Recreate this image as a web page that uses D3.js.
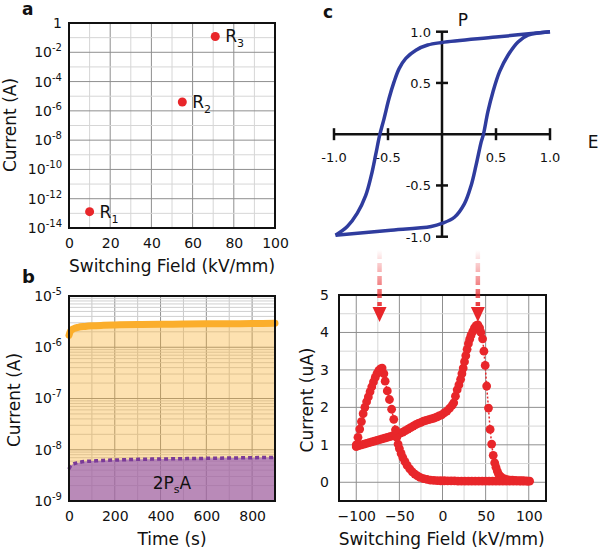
<!DOCTYPE html>
<html><head><meta charset="utf-8">
<script src="https://cdn.jsdelivr.net/npm/d3@7"></script>
<style>
body{margin:0;background:#fff}
svg text{font-family:"DejaVu Sans", sans-serif; fill:#111}
</style></head><body>
<svg id="c" width="600" height="554"></svg>
<script>
// ---------- Panel a data ----------
const aField = [10, 55, 71];
const aCurrent = [1.3e-13, 4e-6, 1.2e-1];
const aSubs = ["1", "2", "3"];
const aXTicks = [0, 20, 40, 60, 80, 100];
const aYExps = [0, -2, -4, -6, -8, -10, -12, -14];

// ---------- Panel b data ----------
const bTime = [0, 5, 10, 20, 40, 70, 100, 150, 200, 300, 400, 500, 600, 700, 800, 900];
const bOrange = [1.7e-6, 2.0e-6, 2.15e-6, 2.3e-6, 2.45e-6, 2.55e-6, 2.62e-6, 2.68e-6, 2.72e-6, 2.78e-6, 2.8e-6, 2.83e-6, 2.86e-6, 2.88e-6, 2.9e-6, 2.93e-6];
const bPurple = [4.2e-9, 4.7e-9, 5.0e-9, 5.3e-9, 5.6e-9, 5.9e-9, 6.0e-9, 6.2e-9, 6.3e-9, 6.5e-9, 6.6e-9, 6.7e-9, 6.8e-9, 6.9e-9, 7.0e-9, 7.1e-9];
const bXTicks = [0, 200, 400, 600, 800];
const bYExps = [-5, -6, -7, -8, -9];

// ---------- Panel c data (hysteresis) ----------
const cUpperE = [1.0, 0.5, 0, -0.133, -0.242, -0.335, -0.397, -0.444, -0.49, -0.537, -0.577, -0.614, -0.654, -0.707, -0.784, -0.877, -0.986];
const cUpperP = [1.0, 0.948, 0.895, 0.87, 0.82, 0.74, 0.64, 0.51, 0.35, 0.15, -0.01, -0.2, -0.4, -0.6, -0.77, -0.9, -0.985];
const cLowerE = [-0.986, -0.5, -0.1, 0, 0.115, 0.207, 0.27, 0.316, 0.363, 0.384, 0.425, 0.471, 0.533, 0.611, 0.704, 0.797, 1.0];
const cLowerP = [-0.985, -0.94, -0.9, -0.87, -0.81, -0.68, -0.5, -0.3, -0.075, 0, 0.22, 0.41, 0.61, 0.77, 0.9, 0.966, 1.0];
const cTicks = [-1, -0.5, 0.5, 1];
const cTickLabels = ["-1.0", "-0.5", "0.5", "1.0"];

// ---------- Panel d data ----------
const dField = [
 -100,-97,-94,-91,-88,-85,-82,-79,-76,-73,-70,-67,-64,-61,-58,-55,-52,-49,-46,-43,-40,-37,-34,-31,-28,-25,-22,-19,-16,-13,-10,-7,-4,-1,2,5,8,11,13,
 15,17,19,21,22.5,24,25.5,27,28.5,30,31.5,33,35,37,39,41,43,44.5,
 46.5,48,49.5,51.2,53.3,55.2,57,58.8,60.5,62,63.5,65,67,69,72,75,78,81,84,87,90,93,96,99,101,
 98,94,90,86,82,78,74,70,66,62,58,54,50,46,42,38,34,30,26,22,18,14,10,6,2,-2,-6,-10,-14,-18,-22,-26,-29,-32,-35,-38,-41,-43.5,-46,-48,-50,-51.5,
 -53,-54.5,-56.5,-59,-61.5,-64,-66.5,
 -68,-70,-72,-74,-76,-78,-80,-82,-84,-86,-88,-90,-92,-94,-96,-98,-100];
const dCurrent = [
 0.95,0.98,1.0,1.02,1.04,1.06,1.08,1.1,1.12,1.14,1.16,1.18,1.2,1.22,1.24,1.26,1.28,1.31,1.34,1.38,1.42,1.46,1.5,1.54,1.57,1.6,1.63,1.65,1.67,1.69,1.71,1.74,1.77,1.8,1.85,1.9,1.97,2.05,2.12,
 2.3,2.47,2.6,2.75,2.9,3.05,3.22,3.38,3.55,3.7,3.82,3.92,4.02,4.12,4.18,4.2,4.12,4.0,
 3.83,3.5,3.12,2.57,1.98,1.41,1.02,0.72,0.52,0.4,0.3,0.22,0.16,0.12,0.09,0.07,0.06,0.055,0.05,0.045,0.04,0.04,0.035,0.03,0.03,
 0.03,0.03,0.03,0.03,0.03,0.03,0.03,0.03,0.03,0.03,0.03,0.03,0.03,0.03,0.03,0.03,0.03,0.03,0.03,0.03,0.03,0.035,0.035,0.035,0.04,0.04,0.045,0.05,0.06,0.075,0.1,0.13,0.17,0.22,0.28,0.36,0.45,0.55,0.66,0.77,0.9,1.02,
 1.2,1.4,1.68,1.95,2.21,2.44,2.7,
 2.9,3.05,3.03,2.98,2.9,2.8,2.68,2.55,2.42,2.28,2.15,2.0,1.83,1.62,1.42,1.2,1.0];
const dXTicks = [-100, -50, 0, 50, 100];
const dYTicks = [0, 1, 2, 3, 4, 5];
const dArrowField = [-73, 41];

// ---------- drawing ----------
const svg = d3.select("#c");
const RED = "#e8262a";
const MAJ = "#8f8f8f", MIN = "#d6d6d6";
const LBL = 17, TCK = 14;

function sup(sel, exps) {
  sel.selectAll(".tick text").each(function(d, i) {
    const t = d3.select(this);
    const e = exps[i];
    t.text(null);
    if (e === 0) { t.append("tspan").text("1"); return; }
    t.append("tspan").text("10");
    t.append("tspan").attr("dy", -6).attr("font-size", 10).text(e);
  });
}
function styleAxis(g) {
  g.select(".domain").remove();
  g.selectAll("text").attr("font-size", TCK).attr("font-family", "DejaVu Sans, sans-serif").attr("fill", "#111");
}

// ===== Panel a =====
const xA = d3.scaleLinear([0, 100], [69, 275]);
const yA = d3.scaleLog([1e-14, 1], [228, 23]);
const ga = svg.append("g");
d3.range(10, 100, 10).forEach(v => ga.append("line")
  .attr("x1", xA(v)).attr("x2", xA(v)).attr("y1", yA(1)).attr("y2", yA(1e-14))
  .attr("stroke", v % 20 === 0 ? MAJ : MIN).attr("stroke-width", 1));
d3.range(-13, 0).forEach(e => ga.append("line")
  .attr("x1", xA(0)).attr("x2", xA(100)).attr("y1", yA(Math.pow(10, e))).attr("y2", yA(Math.pow(10, e)))
  .attr("stroke", e % 2 === 0 ? MAJ : MIN).attr("stroke-width", 1));
ga.append("rect").attr("x", 69).attr("y", 23).attr("width", 206).attr("height", 205)
  .attr("fill", "none").attr("stroke", "#111").attr("stroke-width", 2);
const aYAxis = ga.append("g").attr("transform", "translate(69,0)")
  .call(d3.axisLeft(yA).tickValues(aYExps.map(e => Math.pow(10, e))).tickSize(0).tickPadding(7));
styleAxis(aYAxis); sup(aYAxis, aYExps);
const aXAxis = ga.append("g").attr("transform", "translate(0,228)")
  .call(d3.axisBottom(xA).tickValues(aXTicks).tickSize(0).tickPadding(10));
styleAxis(aXAxis);
ga.selectAll("circle.pt").data(aField).join("circle")
  .attr("cx", (d, i) => xA(d)).attr("cy", (d, i) => yA(aCurrent[i])).attr("r", 4.5).attr("fill", RED);
aField.forEach((f, i) => {
  const t = ga.append("text").attr("x", xA(f) + 10).attr("y", yA(aCurrent[i]) + 6).attr("font-size", LBL);
  t.append("tspan").text("R");
  t.append("tspan").attr("dy", 5).attr("font-size", 11).text(aSubs[i]);
});
ga.append("text").attr("x", 172).attr("y", 272).attr("text-anchor", "middle").attr("font-size", LBL).text("Switching Field (kV/mm)");
ga.append("text").attr("transform", "translate(16,125) rotate(-90)").attr("text-anchor", "middle").attr("font-size", LBL).text("Current (A)");
svg.append("text").attr("x", 22).attr("y", 15).attr("font-size", 17).attr("font-weight", "bold").attr("font-family", "Liberation Sans, Arial, sans-serif").text("a");

// ===== Panel b =====
const xB = d3.scaleLinear([0, 900], [69, 275]);
const yB = d3.scaleLog([1e-9, 1e-5], [501, 296]);
const gb = svg.append("g");
d3.range(100, 900, 100).forEach(v => gb.append("line")
  .attr("x1", xB(v)).attr("x2", xB(v)).attr("y1", yB(1e-5)).attr("y2", yB(1e-9))
  .attr("stroke", v % 200 === 0 ? MAJ : "#c8c8c8").attr("stroke-width", 1));
[-9, -8, -7, -6].forEach(e => d3.range(1, 10).forEach(m => {
  if (e === -9 && m === 1) return;
  const v = m * Math.pow(10, e);
  gb.append("line").attr("x1", xB(0)).attr("x2", xB(900)).attr("y1", yB(v)).attr("y2", yB(v))
    .attr("stroke", m === 1 ? MAJ : "#cfcfcf").attr("stroke-width", 1);
}));
const clip = svg.append("clipPath").attr("id", "clipb");
clip.append("rect").attr("x", 69).attr("y", 296).attr("width", 206).attr("height", 205);
const bData = bTime.map((t, i) => ({ t, o: bOrange[i], p: bPurple[i] }));
gb.append("path").datum(bData).attr("clip-path", "url(#clipb)")
  .attr("d", d3.area().x(d => xB(d.t)).y0(yB(1e-9)).y1(d => yB(d.o)).curve(d3.curveMonotoneX))
  .attr("fill", "#f9b030").attr("fill-opacity", 0.38);
gb.append("path").datum(bData).attr("clip-path", "url(#clipb)")
  .attr("d", d3.area().x(d => xB(d.t)).y0(yB(1e-9)).y1(d => yB(d.p)).curve(d3.curveMonotoneX))
  .attr("fill", "rgb(140,80,190)").attr("fill-opacity", 0.6);
gb.append("path").datum(bData)
  .attr("d", d3.line().x(d => xB(d.t)).y(d => yB(d.o)).curve(d3.curveMonotoneX))
  .attr("fill", "none").attr("stroke", "#fbae2c").attr("stroke-width", 7).attr("stroke-linecap", "round");
gb.append("path").datum(bData)
  .attr("d", d3.line().x(d => xB(d.t)).y(d => yB(d.p)).curve(d3.curveMonotoneX))
  .attr("fill", "none").attr("stroke", "#7a3a98").attr("stroke-width", 3.5).attr("stroke-dasharray", "4,3");
gb.append("rect").attr("x", 69).attr("y", 296).attr("width", 206).attr("height", 205)
  .attr("fill", "none").attr("stroke", "#111").attr("stroke-width", 2);
const bYAxis = gb.append("g").attr("transform", "translate(69,0)")
  .call(d3.axisLeft(yB).tickValues(bYExps.map(e => Math.pow(10, e))).tickSize(0).tickPadding(7));
styleAxis(bYAxis); sup(bYAxis, bYExps);
const bXAxis = gb.append("g").attr("transform", "translate(0,501)")
  .call(d3.axisBottom(xB).tickValues(bXTicks).tickSize(0).tickPadding(10));
styleAxis(bXAxis);
{
  const t = gb.append("text").attr("x", 172).attr("y", 489).attr("text-anchor", "middle").attr("font-size", LBL);
  t.append("tspan").text("2P");
  t.append("tspan").attr("dy", 4).attr("font-size", 11).text("s");
  t.append("tspan").attr("dy", -4).text("A");
}
gb.append("text").attr("x", 172).attr("y", 545).attr("text-anchor", "middle").attr("font-size", LBL).text("Time (s)");
gb.append("text").attr("transform", "translate(20,400) rotate(-90)").attr("text-anchor", "middle").attr("font-size", LBL).text("Current (A)");
svg.append("text").attr("x", 22).attr("y", 283).attr("font-size", 18).attr("font-weight", "bold").attr("font-family", "Liberation Sans, Arial, sans-serif").text("b");

// ===== Panel c =====
const xC = d3.scaleLinear([-1, 1], [334, 550]);
const yC = d3.scaleLinear([-1, 1], [236.7, 31.7]);
const gc = svg.append("g");
gc.append("line").attr("x1", xC(-1)).attr("x2", xC(1)).attr("y1", yC(0)).attr("y2", yC(0)).attr("stroke", "#111").attr("stroke-width", 2.5);
gc.append("line").attr("x1", xC(0)).attr("x2", xC(0)).attr("y1", yC(1)).attr("y2", yC(-1)).attr("stroke", "#111").attr("stroke-width", 2.5);
cTicks.forEach((v, i) => {
  gc.append("line").attr("x1", xC(v)).attr("x2", xC(v)).attr("y1", yC(0) - 6).attr("y2", yC(0) + 6).attr("stroke", "#111").attr("stroke-width", 2.5);
  gc.append("line").attr("x1", xC(0) - 6).attr("x2", xC(0) + 6).attr("y1", yC(v)).attr("y2", yC(v)).attr("stroke", "#111").attr("stroke-width", 2.5);
  gc.append("text").attr("x", xC(v)).attr("y", yC(0) + 28).attr("text-anchor", "middle").attr("font-size", 13).text(cTickLabels[i]);
  gc.append("text").attr("x", xC(0) - 11).attr("y", yC(v) + 5).attr("text-anchor", "end").attr("font-size", 13).text(cTickLabels[i]);
});
const loopLine = d3.line().x(d => xC(d[0])).y(d => yC(d[1])).curve(d3.curveCatmullRom.alpha(0.5));
gc.append("path").datum(cUpperE.map((e, i) => [e, cUpperP[i]])).attr("d", loopLine)
  .attr("fill", "none").attr("stroke", "#2f3c9e").attr("stroke-width", 3.5).attr("stroke-linejoin", "round");
gc.append("path").datum(cLowerE.map((e, i) => [e, cLowerP[i]])).attr("d", loopLine)
  .attr("fill", "none").attr("stroke", "#2f3c9e").attr("stroke-width", 3.5).attr("stroke-linejoin", "round");
gc.append("text").attr("x", 463).attr("y", 26).attr("text-anchor", "middle").attr("font-size", 17).text("P");
gc.append("text").attr("x", 593).attr("y", 148).attr("text-anchor", "middle").attr("font-size", 17).text("E");
svg.append("text").attr("x", 323).attr("y", 18).attr("font-size", 17).attr("font-weight", "bold").attr("font-family", "Liberation Sans, Arial, sans-serif").text("c");

// ===== Panel d =====
const xD = d3.scaleLinear([-120, 120], [339, 546]);
const yD = d3.scaleLinear([-0.5, 5], [501, 295]);
const gd = svg.append("g");
d3.range(-100, 101, 25).forEach(v => gd.append("line")
  .attr("x1", xD(v)).attr("x2", xD(v)).attr("y1", yD(5)).attr("y2", yD(-0.5))
  .attr("stroke", v % 50 === 0 ? MAJ : MIN).attr("stroke-width", 1));
d3.range(0, 5, 0.5).forEach(v => gd.append("line")
  .attr("x1", xD(-120)).attr("x2", xD(120)).attr("y1", yD(v)).attr("y2", yD(v))
  .attr("stroke", v % 1 === 0 ? MAJ : MIN).attr("stroke-width", 1));
gd.append("rect").attr("x", 339).attr("y", 295).attr("width", 207).attr("height", 206)
  .attr("fill", "none").attr("stroke", "#111").attr("stroke-width", 2);
const dYAxis = gd.append("g").attr("transform", "translate(339,0)")
  .call(d3.axisLeft(yD).tickValues(dYTicks).tickFormat(d3.format("d")).tickSize(0).tickPadding(10));
styleAxis(dYAxis);
const dXAxis = gd.append("g").attr("transform", "translate(0,501)")
  .call(d3.axisBottom(xD).tickValues(dXTicks).tickFormat(d3.format("d")).tickSize(0).tickPadding(10));
styleAxis(dXAxis);
const dPts = dField.map((f, i) => [f, dCurrent[i]]);
gd.append("path").datum(dPts).attr("d", d3.line().x(d => xD(d[0])).y(d => yD(d[1])))
  .attr("fill", "none").attr("stroke", RED).attr("stroke-width", 1.5).attr("stroke-dasharray", "2,2");
gd.selectAll("circle.dp").data(dPts).join("circle")
  .attr("cx", d => xD(d[0])).attr("cy", d => yD(d[1])).attr("r", 4.4).attr("fill", RED);
gd.append("text").attr("x", 441.7).attr("y", 545).attr("text-anchor", "middle").attr("font-size", LBL).text("Switching Field (kV/mm)");
gd.append("text").attr("transform", "translate(313,400) rotate(-90)").attr("text-anchor", "middle").attr("font-size", LBL).text("Current (uA)");

// arrows
const defs = svg.append("defs");
const grad = defs.append("linearGradient").attr("id", "ag").attr("gradientUnits", "userSpaceOnUse")
  .attr("x1", 0).attr("y1", 250).attr("x2", 0).attr("y2", 305);
grad.append("stop").attr("offset", 0).attr("stop-color", RED).attr("stop-opacity", 0);
grad.append("stop").attr("offset", 1).attr("stop-color", RED).attr("stop-opacity", 0.9);
dArrowField.forEach(f => {
  const x = xD(f);
  gd.append("line").attr("x1", x).attr("x2", x).attr("y1", 250).attr("y2", 306)
    .attr("stroke", "url(#ag)").attr("stroke-width", 4.5).attr("stroke-dasharray", "9,4");
  gd.append("path").attr("d", `M${x - 7},307 L${x + 7},307 L${x},322 Z`).attr("fill", RED);
});
</script>
</body></html>
